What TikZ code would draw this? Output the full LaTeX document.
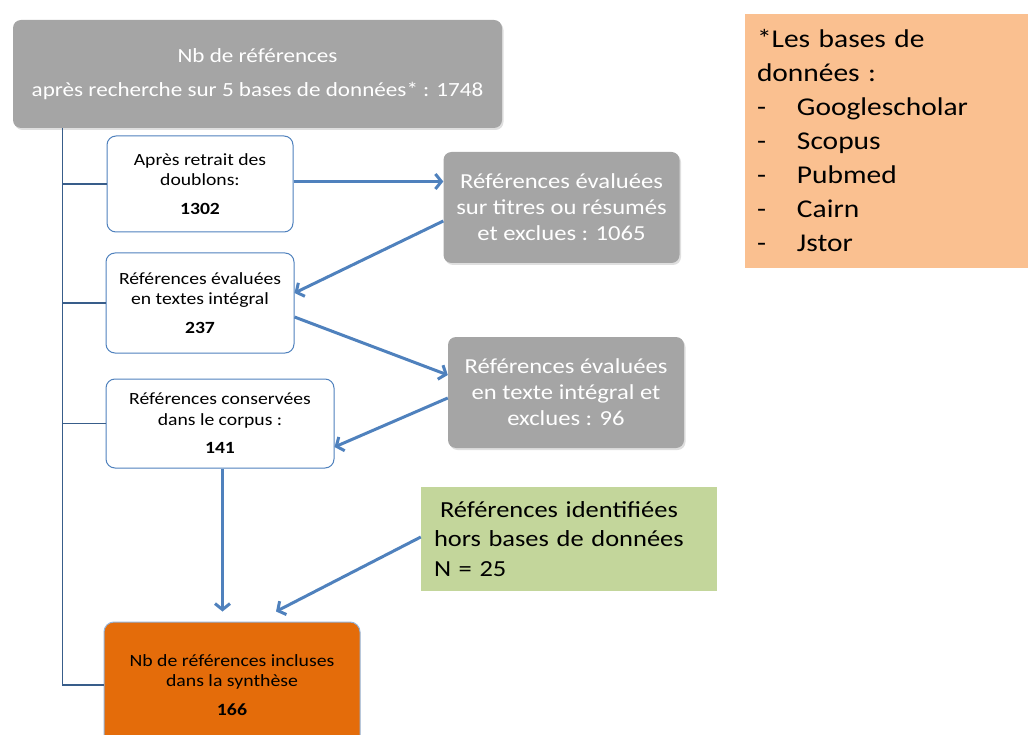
\documentclass[tikz,border=0pt]{standalone}
\usepackage{fontspec}
\setmainfont{Carlito}[FakeStretch=1.15]
\usetikzlibrary{arrows.meta,shadows}
\definecolor{boxgray}{RGB}{165,165,165}
\definecolor{accblue}{RGB}{79,129,189}
\definecolor{spineblue}{RGB}{56,93,138}
\definecolor{greenfill}{RGB}{195,214,155}
\definecolor{orangefill}{RGB}{228,108,10}
\definecolor{peachfill}{RGB}{250,192,144}
\begin{document}
\begin{tikzpicture}[x=1pt,y=-1pt,
  graybox/.style={fill=boxgray, rounded corners=8pt, text=white, align=center, inner sep=0pt,
    drop shadow={shadow xshift=1.5pt, shadow yshift=-2pt, opacity=0.25}},
  whitebox/.style={draw=accblue, line width=1pt, fill=white, rounded corners=9pt, align=center,
    inner sep=0pt, font=\fontsize{17.1}{20.5}\selectfont},
  smallgray/.style={graybox, minimum width=236pt, minimum height=111pt, font=\fontsize{21.4}{26}\selectfont},
  arr/.style={draw=accblue, line width=3pt, -{Straight Barb[length=6pt,width=15pt]}},
  spine/.style={draw=spineblue, line width=1.3pt},
]
\useasboundingbox (0,0) rectangle (1028,735);

\node[graybox, minimum width=489pt, minimum height=108pt, font=\fontsize{20.1}{24}\selectfont] (top) at (257.5,74)
  {Nb de références\\[10pt]après recherche sur 5 bases de données* : 1748};

\node[whitebox, minimum width=186pt, minimum height=96pt] (b1) at (200,184)
  {Après retrait des\\doublons:\\[8pt]\textbf{1302}};
\node[whitebox, minimum width=188pt, minimum height=100pt] (b2) at (200,303)
  {Références évaluées\\en textes intégral\\[8pt]\textbf{237}};
\node[whitebox, minimum width=228pt, minimum height=89pt] (b3) at (220,423.5)
  {Références conservées\\dans le corpus :\\[8pt]\textbf{141}};

\node[smallgray] (g2) at (561.5,207.5)
  {Références évaluées\\sur titres ou résumés\\et exclues : 1065};
\node[smallgray] (g3) at (566,392.5)
  {Références évaluées\\en texte intégral et\\exclues : 96};

\node[fill=greenfill, minimum height=104pt, text width=270pt, inner xsep=13pt, inner ysep=0pt, align=left,
  font=\fontsize{23}{29.5}\selectfont] (ext) at (569,539)
  {\hspace*{6pt}Références identifiées\\hors bases de données\\N = 25};

\node[draw=accblue!60, line width=1pt, fill=orangefill, rounded corners=10pt, minimum width=256pt,
  minimum height=126pt, align=center, inner sep=0pt, font=\fontsize{17.2}{20.5}\selectfont] (fin) at (232,685)
  {Nb de références incluses\\dans la synthèse\\[8pt]\textbf{166}};

\node[fill=peachfill, minimum width=283pt, minimum height=254pt, text width=259pt, inner xsep=12pt,
  inner ysep=0pt, align=left, font=\fontsize{25.6}{34}\selectfont] (bases) at (886.5,141)
  {*Les bases de\\données :\\\makebox[40pt][l]{-}Googlescholar\\\makebox[40pt][l]{-}Scopus\\
   \makebox[40pt][l]{-}Pubmed\\\makebox[40pt][l]{-}Cairn\\\makebox[40pt][l]{-}Jstor};

% spine
\coordinate (sp) at ([xshift=50pt]top.south west);
\draw[spine] (sp) |- (fin.west);
\draw[spine] (sp) |- (b1.west);
\draw[spine] (sp) |- (b2.west);
\draw[spine] (sp) |- (b3.west);

% arrows
\draw[arr] ([yshift=2.5pt]b1.east) -- ([yshift=26pt]g2.west);
\draw[arr] ([yshift=-13.5pt]g2.west) -- ([yshift=10pt]b2.east);
\draw[arr] ([yshift=-14pt]b2.east) -- ([yshift=17.5pt]g3.west);
\draw[arr] ([yshift=-5.5pt]g3.west) -- ([yshift=-23.5pt]b3.east);
\draw[arr] ([xshift=2.5pt]b3.south) -- ([xshift=-9.5pt,yshift=10pt]fin.north);
\draw[arr] ([yshift=2pt]ext.west) -- ([xshift=44pt,yshift=10pt]fin.north);
\end{tikzpicture}
\end{document}
